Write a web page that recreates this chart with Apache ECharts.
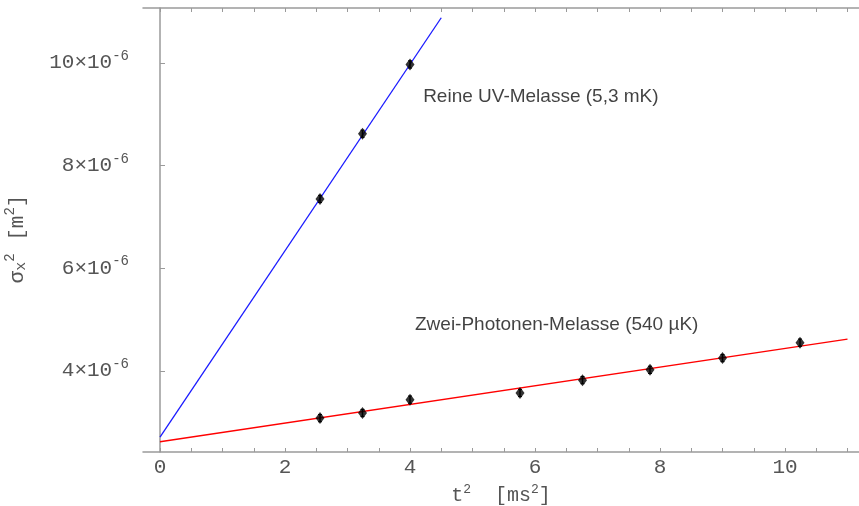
<!DOCTYPE html>
<html>
<head>
<meta charset="utf-8">
<script src="https://cdn.jsdelivr.net/npm/echarts@6/dist/echarts.min.js"></script>
<style>html,body{margin:0;padding:0;background:#fff}#c{width:859px;height:506px}</style>
</head>
<body>
<div id="c"></div>
<script>
// Values of sigma_x^2 are in units of 1e-6 m^2, t^2 in ms^2
const uvT2 = [2.56, 3.24, 4.0];
const uvSigma2 = [7.35, 8.62, 9.97];
const uvErr = [0.07, 0.07, 0.07];
const tpT2 = [2.56, 3.24, 4.0, 5.76, 6.76, 7.84, 9.0, 10.24];
const tpSigma2 = [3.08, 3.18, 3.44, 3.57, 3.82, 4.02, 4.25, 4.55];
const tpErr = [0.07, 0.07, 0.07, 0.07, 0.07, 0.07, 0.07, 0.07];
const uvFitX = [0, 4.5];
const uvFitY = [2.71, 10.88];
const tpFitX = [0, 11.0];
const tpFitY = [2.62, 4.62];
const xTickLabels = [0, 2, 4, 6, 8, 10];
const xMinorTicks = [0, 0.5, 1, 1.5, 2, 2.5, 3, 3.5, 4, 4.5, 5, 5.5, 6, 6.5, 7, 7.5, 8, 8.5, 9, 9.5, 10, 10.5, 11];
const yTickLabels = [4, 6, 8, 10];
const annotations = [
  {text: 'Reine UV-Melasse (5,3 mK)', x: 4.21, y: 9.34},
  {text: 'Zwei-Photonen-Melasse (540 µK)', x: 4.08, y: 4.90}
];

const pair = (xs, ys) => xs.map((x, i) => [x, ys[i]]);
const errData = (xs, ys, es) => xs.map((x, i) => [x, ys[i] - es[i], ys[i] + es[i]]);
const errSeries = (data) => ({
  type: 'custom', z: 4,
  renderItem: (params, api) => {
    const lo = api.coord([api.value(0), api.value(1)]);
    const hi = api.coord([api.value(0), api.value(2)]);
    const w = 2;
    return {type: 'group', children: [
      {type: 'line', shape: {x1: lo[0], y1: lo[1], x2: hi[0], y2: hi[1]}, style: {stroke: '#000', lineWidth: 1.5}},
      {type: 'line', shape: {x1: lo[0]-w, y1: lo[1], x2: lo[0]+w, y2: lo[1]}, style: {stroke: '#000', lineWidth: 1}},
      {type: 'line', shape: {x1: hi[0]-w, y1: hi[1], x2: hi[0]+w, y2: hi[1]}, style: {stroke: '#000', lineWidth: 1}}
    ]};
  },
  data: data
});

const axisGray = '#9a9a9a';
const txtGray = '#555';
const monoFont = '"Liberation Mono", "DejaVu Sans Mono", monospace';
const chart = echarts.init(document.getElementById('c'));
chart.setOption({
  animation: false,
  grid: {left: 143, top: 8, right: 0, bottom: 54, containLabel: false, outerBoundsMode: 'none'},
  xAxis: [{
    type: 'value', min: -0.272, max: 11.184, position: 'bottom',
    name: '{t|t}{s|2}{t|  [ms}{s|2}{t|]}', nameLocation: 'middle', nameGap: 29,
    nameTextStyle: {rich: {
      t: {fontFamily: monoFont, fontSize: 20, color: txtGray},
      s: {fontFamily: monoFont, fontSize: 13, color: txtGray, padding: [0, 0, 12, 0]}
    }},
    axisLine: {show: true, lineStyle: {color: axisGray, width: 1.5}},
    axisTick: {show: true, inside: true, length: 4, customValues: xMinorTicks, lineStyle: {color: axisGray}},
    axisLabel: {customValues: xTickLabels, fontFamily: monoFont, fontSize: 21, color: txtGray, margin: 5},
    splitLine: {show: false}
  }, {
    type: 'value', min: -0.272, max: 11.184, position: 'top',
    axisLine: {show: true, lineStyle: {color: axisGray, width: 1.5}},
    axisTick: {show: true, inside: true, length: 4, customValues: xMinorTicks, lineStyle: {color: axisGray}},
    axisLabel: {show: false},
    splitLine: {show: false}
  }],
  yAxis: {
    type: 'value', min: 2.42, max: 11.07,
    name: '{t|σ}{b|x}{s|2}{t| [m}{s|2}{t|]}{e|}', nameLocation: 'middle', nameGap: 112,
    nameTextStyle: {rich: {
      t: {fontFamily: monoFont, fontSize: 21, color: txtGray},
      b: {fontFamily: monoFont, fontSize: 15, color: txtGray, padding: [8, 0, 0, 0]},
      s: {fontFamily: monoFont, fontSize: 14, color: txtGray, padding: [0, 0, 14, 0]},
      e: {width: 18}
    }},
    axisLine: {show: true, lineStyle: {color: axisGray, width: 1.5}},
    axisTick: {show: true, inside: true, length: 5, customValues: yTickLabels, lineStyle: {color: axisGray}},
    axisLabel: {
      customValues: yTickLabels, margin: 14,
      formatter: v => '{a|' + v + '×10}{b|-6}',
      rich: {
        a: {fontFamily: monoFont, fontSize: 21, color: txtGray},
        b: {fontFamily: monoFont, fontSize: 14, color: txtGray, padding: [0, 0, 13, 0]}
      }
    },
    splitLine: {show: false}
  },
  series: [
    {type: 'line', data: pair(uvFitX, uvFitY), showSymbol: false, lineStyle: {color: '#1a1aff', width: 1.3}, z: 2},
    {type: 'line', data: pair(tpFitX, tpFitY), showSymbol: false, lineStyle: {color: '#ff0000', width: 1.3}, z: 2},
    errSeries(errData(uvT2, uvSigma2, uvErr)),
    errSeries(errData(tpT2, tpSigma2, tpErr)),
    {type: 'scatter', data: pair(uvT2, uvSigma2), symbol: 'diamond', symbolSize: [9, 12], itemStyle: {color: '#000'}, z: 5},
    {type: 'scatter', data: pair(tpT2, tpSigma2), symbol: 'diamond', symbolSize: [9, 12], itemStyle: {color: '#000'}, z: 5},
    {type: 'scatter', data: annotations.map(a => ({value: [a.x, a.y], name: a.text})), symbolSize: 0,
      label: {show: true, position: 'right', distance: 0, formatter: p => p.name,
        fontFamily: '"Liberation Sans", Arial, sans-serif', fontSize: 19, color: '#111'}, z: 6}
  ]
});
</script>
</body>
</html>
